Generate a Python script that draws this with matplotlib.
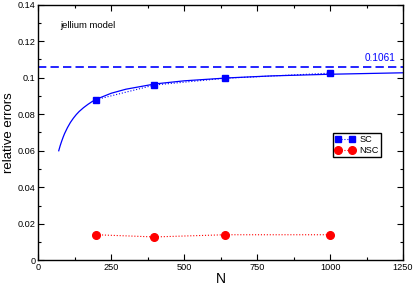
import matplotlib
matplotlib.use('Agg')
import matplotlib.pyplot as plt
from matplotlib.ticker import MultipleLocator, FuncFormatter

plt.rcParams['font.family'] = ['Liberation Sans', 'DejaVu Sans']

# fitted curve
fit_n = [70, 75, 80, 85, 90, 100, 110, 120, 130, 140, 155, 170, 185, 200,
         250, 300, 400, 500, 650, 800, 1000, 1250]
fit_err = [0.0600, 0.0628, 0.0652, 0.0674, 0.0694, 0.0727, 0.0755, 0.0778,
           0.0798, 0.0815, 0.0836, 0.0854, 0.0870, 0.0883,
           0.0915, 0.0937, 0.0966, 0.0983, 0.0999, 0.1010, 0.1019, 0.1027]

n_sizes = [198, 398, 640, 1000]
sc_err = [0.0880, 0.0960, 0.0997, 0.1025]
nsc_err = [0.0140, 0.0128, 0.0140, 0.0140]
limit = 0.1061

fig = plt.figure(figsize=(4.15, 2.87), dpi=100)
ax = fig.add_axes([0.0923, 0.093, 0.879, 0.8907])

ax.axhline(limit, color='blue', linestyle=(0, (5, 2.5)), linewidth=1.2)
ax.plot(fit_n, fit_err, color='blue', linewidth=0.9)
ax.plot(n_sizes, sc_err, color='blue', linestyle=':', linewidth=0.8,
        marker='s', markersize=4.8, label='SC')
ax.plot(n_sizes, nsc_err, color='red', linestyle=':', linewidth=0.8,
        marker='o', markersize=5.5, label='NSC')

ax.text(1225, limit + 0.002, '0.1061', color='blue', fontsize=7.2,
        ha='right', va='bottom')
ax.text(75, 0.1285, 'jellium model', fontsize=6.8, va='center')

ax.set_xlim(0, 1250)
ax.set_ylim(0, 0.14)
ax.xaxis.set_major_locator(MultipleLocator(250))
ax.xaxis.set_minor_locator(MultipleLocator(125))
ax.yaxis.set_major_locator(MultipleLocator(0.02))
ax.yaxis.set_minor_locator(MultipleLocator(0.01))
ax.yaxis.set_major_formatter(FuncFormatter(lambda v, p: f'{v:g}'))
ax.tick_params(which='both', direction='in', top=True, right=True, labelsize=6.6, pad=2)
ax.tick_params(which='major', length=4, width=0.8)
ax.tick_params(which='minor', length=2.5, width=0.8)
for s in ax.spines.values():
    s.set_linewidth(1.0)

ax.set_xlabel('N', fontsize=10, labelpad=0)
ax.set_ylabel('relative errors', fontsize=9.5, labelpad=2)

ax.legend(loc='upper left', bbox_to_anchor=(0.807, 0.499), numpoints=2, fontsize=6.6,
          frameon=True, fancybox=False, edgecolor='black', framealpha=1,
          handlelength=2.2, handletextpad=0.5, borderpad=0.25, labelspacing=0.2,
          borderaxespad=0)

fig.savefig('out.png', dpi=100)
